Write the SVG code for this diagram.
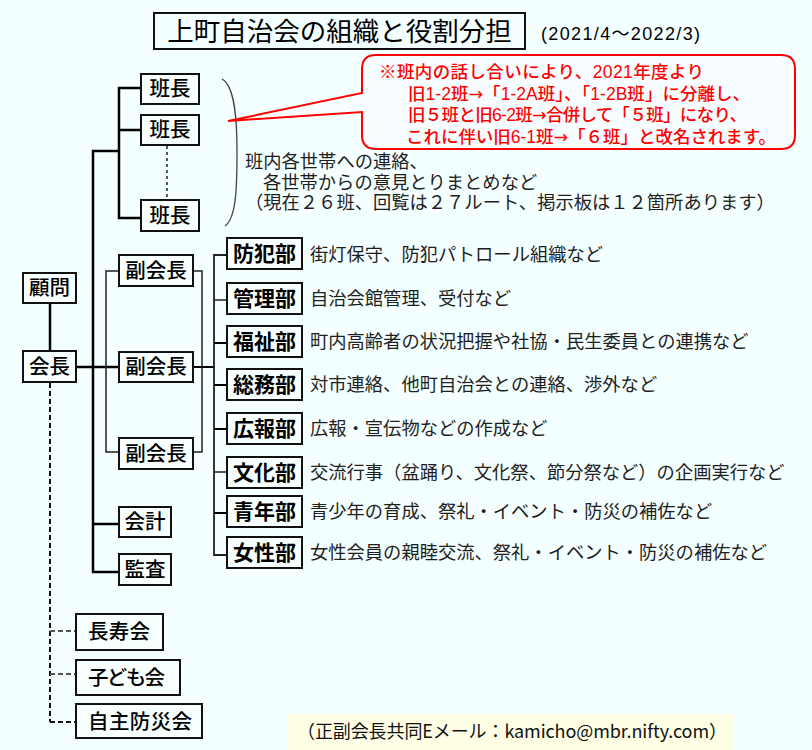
<svg xmlns="http://www.w3.org/2000/svg" width="812" height="750" viewBox="0 0 812 750">
<style>
.bg{fill:#F4FFFF}
.box{fill:#F8FFFF;stroke:#111;stroke-width:2}
.t{font-family:"Noto Sans CJK JP","Noto Sans",sans-serif;font-size:20.5px;fill:#000;text-anchor:middle;font-weight:500}
.td{font-family:"Noto Sans CJK JP","Noto Sans",sans-serif;font-size:21px;fill:#000;text-anchor:middle;font-weight:bold}
.tl{font-family:"Noto Sans CJK JP","Noto Sans",sans-serif;font-size:20.5px;fill:#000;font-weight:500}
.desc{font-family:"Liberation Serif","Noto Sans CJK JP",serif;font-size:18.3px;fill:#1e1e1e}
.red{font-family:"Liberation Sans","Noto Sans CJK JP",sans-serif;font-size:17.5px;fill:#F00;font-weight:500}
.arr{font-family:"DejaVu Sans",sans-serif}
.thick{stroke:#000;stroke-width:2.5;fill:none}
.thin{stroke:#222;stroke-width:1.5;fill:none}
.dash{stroke:#111;stroke-width:2;stroke-dasharray:5,3;fill:none}
.dashg{stroke:#555;stroke-width:2;stroke-dasharray:5,3;fill:none}
</style>
<rect class="bg" x="0" y="0" width="812" height="750"/>

<g id="title">
<rect x="154" y="13" width="371" height="36" fill="none" stroke="#111" stroke-width="2"/>
<text x="339.5" y="41" font-family="Noto Sans CJK JP,sans-serif" font-size="26.5" text-anchor="middle" fill="#000">上町自治会の組織と役割分担</text>
<text x="541" y="40" font-family="Liberation Sans,Noto Sans CJK JP,sans-serif" font-size="18" fill="#000" textLength="159" lengthAdjust="spacing">(2021/4～2022/3)</text>
</g>

<g id="connectors">
<path class="thick" d="M141,88 H119 V218 H141 M119,130 H141 M119,151 H93 V572 H119 M93,524 H119"/>
<path d="M167,146 V200" stroke="#222" stroke-width="1.5" stroke-dasharray="3,3" fill="none"/>
<path class="thick" d="M50,303 V351"/>
<path class="thick" d="M76,367 H119"/>
<path class="thin" d="M119,271 H106 V452 H119"/>
<path class="thin" d="M193,271 H202 V452 H193"/>
<path class="thick" d="M193,367 H214" style="stroke-width:2"/>
<path class="thin" d="M227,255 H214 V555 H227" style="stroke-width:1.8"/>
<path class="thin" d="M214,300 H227 M214,472 H227"/>
<path class="thick" d="M214,343 H227 M214,385 H227 M214,429 H227 M214,513 H227" style="stroke-width:2.2"/>
<path class="dash" d="M50,383 V722"/>
<path class="dashg" d="M50,631 H76 M50,674 H76"/>
<path class="dash" d="M50,722 H76"/>
<path d="M222,79 C235,86 237,120 237,152 C237,190 236,218 225,226" fill="none" stroke="#444" stroke-width="1.3"/>
</g>

<g id="callout">
<path d="M376,55 H781 Q795,55 795,69 V135 Q795,149 781,149 H376 Q362,149 362,135 V112 L228,121 L362,93 V69 Q362,55 376,55 Z" fill="#F8FEFF" stroke="#F00" stroke-width="2"/>
<text class="red" x="379" y="78" textLength="325" lengthAdjust="spacing">※班内の話し合いにより、2021年度より</text>
<text class="red" x="408" y="100" textLength="342" lengthAdjust="spacing">旧1-2班<tspan class="arr">→</tspan>「1-2A班」、「1-2B班」に分離し、</text>
<text class="red" x="408" y="121" textLength="339" lengthAdjust="spacing">旧５班と旧6-2班<tspan class="arr">→</tspan>合併して「５班」になり、</text>
<text class="red" x="406" y="143" textLength="370" lengthAdjust="spacing">これに伴い旧6-1班<tspan class="arr">→</tspan>「６班」と改名されます。</text>
</g>

<g id="hancho-note">
<text class="desc" x="245" y="168">班内各世帯への連絡、</text>
<text class="desc" x="263" y="188.5">各世帯からの意見とりまとめなど</text>
<text class="desc" x="245" y="209">（現在２６班、回覧は２７ルート、掲示板は１２箇所あります）</text>
</g>

<g id="hancho1"><rect class="box" x="141" y="74" width="58" height="30"/><text class="t" x="170" y="96">班長</text></g>
<g id="hancho2"><rect class="box" x="141" y="115" width="58" height="30"/><text class="t" x="170" y="137">班長</text></g>
<g id="hancho3"><rect class="box" x="141" y="200" width="58" height="31"/><text class="t" x="170" y="223">班長</text></g>

<g id="komon"><rect class="box" x="23" y="273" width="53" height="30"/><text class="t" x="49.5" y="295">顧問</text></g>
<g id="kaicho"><rect class="box" x="23" y="351" width="53" height="31"/><text class="t" x="49.5" y="374">会長</text></g>

<g id="fuku1"><rect class="box" x="119" y="255" width="74" height="31"/><text class="t" x="156" y="278">副会長</text></g>
<g id="fuku2"><rect class="box" x="119" y="352" width="74" height="30"/><text class="t" x="156" y="374">副会長</text></g>
<g id="fuku3"><rect class="box" x="119" y="438" width="74" height="31"/><text class="t" x="156" y="461">副会長</text></g>

<g id="kaikei"><rect class="box" x="119" y="507" width="52" height="30"/><text class="t" x="145" y="529">会計</text></g>
<g id="kansa"><rect class="box" x="119" y="554" width="52" height="31"/><text class="t" x="145" y="577">監査</text></g>

<g id="bohan"><rect class="box" x="227" y="238" width="75" height="31"/><text class="td" x="264.5" y="261">防犯部</text><text class="desc" x="310" y="261">街灯保守、防犯パトロール組織など</text></g>
<g id="kanri"><rect class="box" x="227" y="283" width="75" height="31"/><text class="td" x="264.5" y="306">管理部</text><text class="desc" x="310" y="305">自治会館管理、受付など</text></g>
<g id="fukushi"><rect class="box" x="227" y="326" width="75" height="31"/><text class="td" x="264.5" y="349">福祉部</text><text class="desc" x="310" y="348">町内高齢者の状況把握や社協・民生委員との連携など</text></g>
<g id="somu"><rect class="box" x="227" y="369" width="75" height="31"/><text class="td" x="264.5" y="392">総務部</text><text class="desc" x="310" y="391">対市連絡、他町自治会との連絡、渉外など</text></g>
<g id="koho"><rect class="box" x="227" y="413" width="75" height="31"/><text class="td" x="264.5" y="436">広報部</text><text class="desc" x="310" y="435">広報・宣伝物などの作成など</text></g>
<g id="bunka"><rect class="box" x="227" y="457" width="75" height="31"/><text class="td" x="264.5" y="480">文化部</text><text class="desc" x="310" y="479">交流行事（盆踊り、文化祭、節分祭など）の企画実行など</text></g>
<g id="seinen"><rect class="box" x="227" y="496" width="75" height="31"/><text class="td" x="264.5" y="519">青年部</text><text class="desc" x="310" y="518">青少年の育成、祭礼・イベント・防災の補佐など</text></g>
<g id="josei"><rect class="box" x="227" y="537" width="75" height="31"/><text class="td" x="264.5" y="560">女性部</text><text class="desc" x="310" y="559">女性会員の親睦交流、祭礼・イベント・防災の補佐など</text></g>

<g id="chojukai"><rect class="box" x="76" y="614" width="87" height="36"/><text class="tl" x="88" y="639" textLength="62" lengthAdjust="spacing">長寿会</text></g>
<g id="kodomokai"><rect class="box" x="76" y="660" width="104" height="35"/><text class="tl" x="88" y="685" textLength="77" lengthAdjust="spacing">子ども会</text></g>
<g id="bosaikai"><rect class="box" x="76" y="704" width="126" height="34"/><text class="tl" x="88" y="729" textLength="104" lengthAdjust="spacing">自主防災会</text></g>

<g id="email">
<rect x="288" y="714" width="445" height="36" fill="#FFFFE6"/>
<text x="297" y="738" font-family="Noto Sans CJK JP,sans-serif" font-size="18" fill="#111" textLength="430" lengthAdjust="spacing">（正副会長共同Eメール：kamicho@mbr.nifty.com）</text>
</g>
</svg>
